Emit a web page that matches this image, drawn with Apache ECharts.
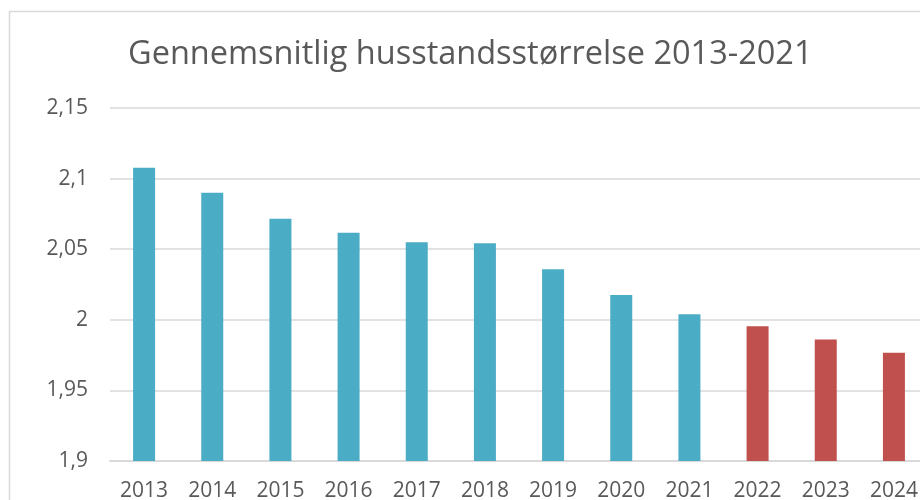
<!DOCTYPE html>
<html>
<head>
<meta charset="utf-8">
<script src="https://cdn.jsdelivr.net/npm/echarts@6/dist/echarts.min.js"></script>
<style>
  html, body { margin: 0; padding: 0; background: #fff; }
  #chart { width: 920px; height: 500px; }
</style>
</head>
<body>
<div id="chart"></div>
<script>
// data
var years = ["2013", "2014", "2015", "2016", "2017", "2018", "2019", "2020", "2021", "2022", "2023", "2024"];
var sizes = [2.1076, 2.090, 2.0716, 2.0616, 2.055, 2.0543, 2.0358, 2.0175, 2.004, 1.9955, 1.986, 1.9766];
var isForecast = [false, false, false, false, false, false, false, false, false, true, true, true];

var chart = echarts.init(document.getElementById("chart"));

var option = {
  backgroundColor: "#fff",
  animation: false,
  title: {
    text: "Gennemsnitlig husstandsstørrelse 2013-2021",
    left: 123,
    top: 33,
    textStyle: {
      color: "#595959",
      fontFamily: "Open Sans",
      fontWeight: "normal",
      fontSize: 32.5,
    },
  },
  graphic: [
    {
      type: "rect",
      shape: { x: 9.5, y: 11.5, width: 1000, height: 1000 },
      style: { fill: "none", stroke: "#d9d9d9", lineWidth: 1.5 },
      silent: true,
    },
  ],
  grid: {
    left: 110,
    top: 108,
    width: 818,
    height: 353,
    outerBoundsMode: "none",
    containLabel: false,
  },
  xAxis: {
    type: "category",
    data: years,
    axisLine: { lineStyle: { color: "#d9d9d9", width: 2 } },
    axisTick: { show: false },
    axisLabel: {
      color: "#595959",
      fontFamily: "Open Sans",
      fontSize: 21,
      margin: 20,
    },
  },
  yAxis: {
    type: "value",
    min: 1.9,
    max: 2.15,
    interval: 0.05,
    axisLine: { show: false },
    axisTick: { show: false },
    splitLine: { lineStyle: { color: "#d9d9d9", width: 1.5 } },
    axisLabel: {
      color: "#595959",
      fontFamily: "Open Sans",
      fontSize: 21,
      margin: 22,
      formatter: function (v) {
        return String(Math.round(v * 100) / 100).replace(".", ",");
      },
    },
  },
  series: [
    {
      type: "bar",
      barWidth: 22,
      data: sizes.map(function (v, i) {
        return {
          value: v,
          itemStyle: { color: isForecast[i] ? "#C0504D" : "#4BACC6" },
        };
      }),
    },
  ],
};

chart.setOption(option);
</script>
</body>
</html>
